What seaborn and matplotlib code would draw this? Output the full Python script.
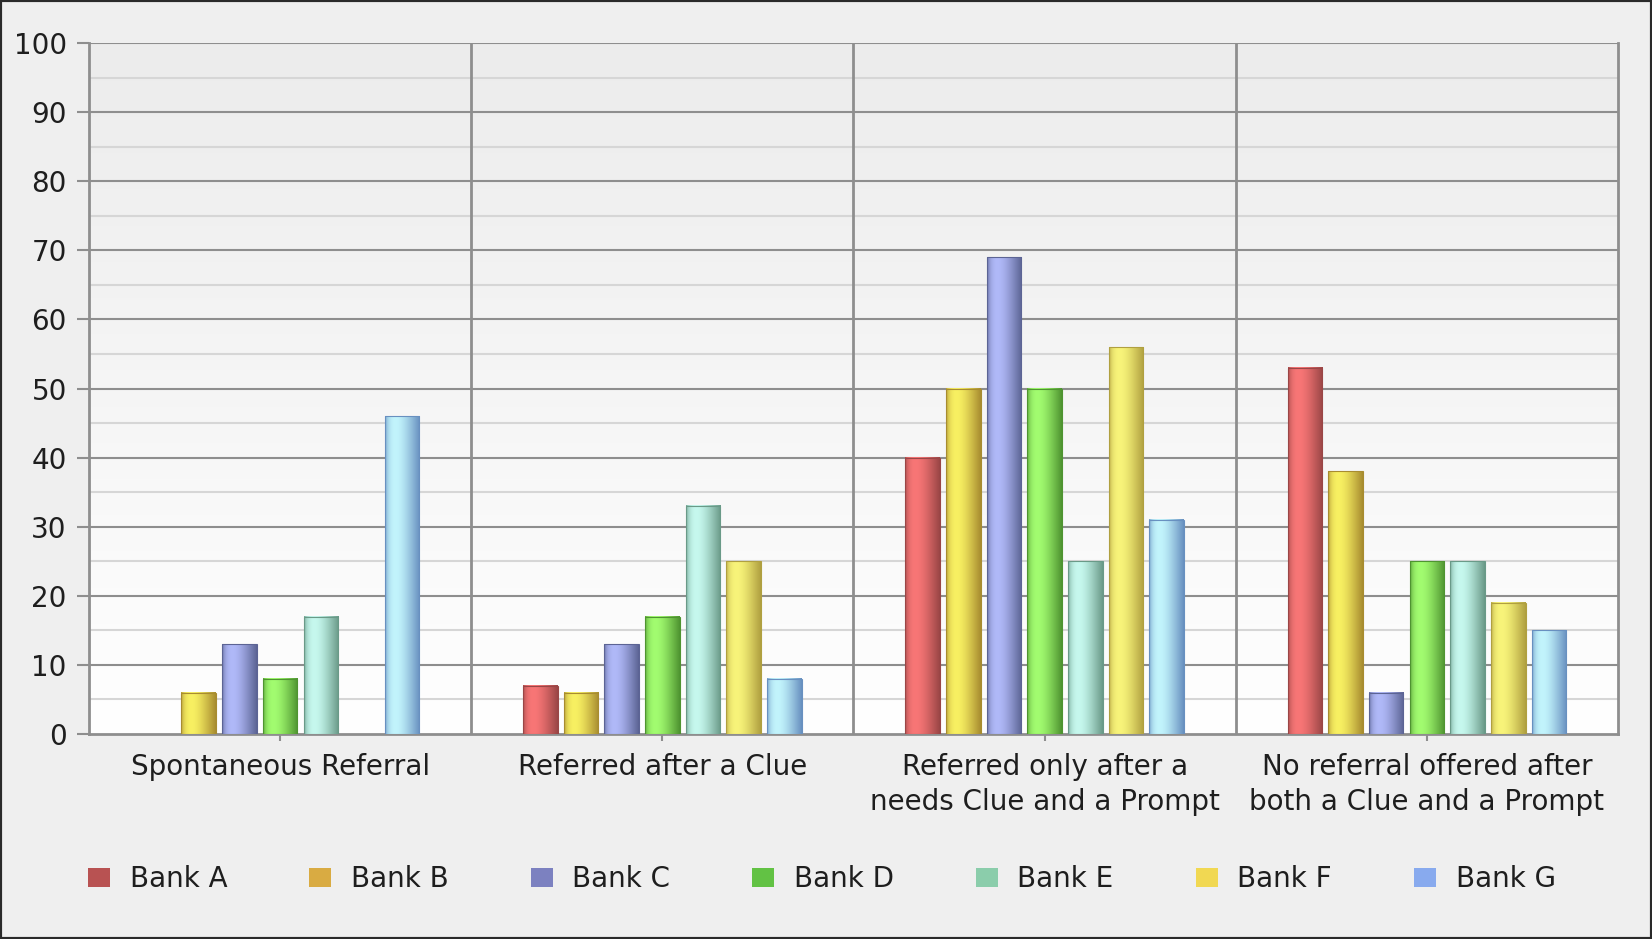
import numpy as np
import pandas as pd
import matplotlib
matplotlib.use("Agg")
import matplotlib.pyplot as plt
import matplotlib.colors as mcolors
from matplotlib.patches import Patch, Rectangle
import seaborn as sns

# ---------------- data ----------------
categories = [
    "Spontaneous Referral",
    "Referred after a Clue",
    "Referred only after a\nneeds Clue and a Prompt",
    "No referral offered after\nboth a Clue and a Prompt",
]
banks = ["Bank A", "Bank B", "Bank C", "Bank D", "Bank E", "Bank F", "Bank G"]
bank_a = [0, 7, 40, 53]
bank_b = [6, 6, 50, 38]
bank_c = [13, 13, 69, 6]
bank_d = [8, 17, 50, 25]
bank_e = [17, 33, 25, 25]
bank_f = [0, 25, 56, 19]
bank_g = [46, 8, 31, 15]
y_ticks = [0, 10, 20, 30, 40, 50, 60, 70, 80, 90, 100]

series = [bank_a, bank_b, bank_c, bank_d, bank_e, bank_f, bank_g]
rows = []
for b, vals in zip(banks, series):
    for c, v in zip(categories, vals):
        rows.append({"category": c, "bank": b, "value": v})
df = pd.DataFrame(rows)

# ---------------- styles ----------------
legend_colors = ["#b85252", "#d9ab42", "#7c81c0", "#62c244", "#8bcdab", "#f1d852", "#88aaee"]
bar_light = ["#f87676", "#f8f062", "#b0b9f8", "#a2fc70", "#c6f8ee", "#f8f47a", "#c2f4fc"]
bar_dark = ["#9a4646", "#a88c30", "#5c6494", "#4f9431", "#6a9a88", "#b0a040", "#6890c0"]

sns.set_theme(style="white")
plt.rcParams["font.family"] = ["DejaVu Sans"]

W, H = 1652, 939
fig = plt.figure(figsize=(W / 100, H / 100), dpi=100)
fig.patch.set_facecolor("#efefef")

L, R, T, B = 89, 1618, 43, 734
ax = fig.add_axes([L / W, 1 - B / H, (R - L) / W, (B - T) / H])

sns.barplot(data=df, x="category", y="value", hue="bank", order=categories,
            hue_order=banks, palette=legend_colors, width=0.745, gap=0.15,
            saturation=1, ax=ax, legend=False, zorder=3)

# background gradient of plot area
bg = np.linspace(0, 1, 256)[:, None]
bg_cmap = mcolors.LinearSegmentedColormap.from_list("bg", ["#ececec", "#ffffff"])
ax.imshow(bg, cmap=bg_cmap, extent=(0, 1, 0, 1), transform=ax.transAxes,
          aspect="auto", zorder=0, origin="upper")

# cylindrical shading for bars
xs = np.linspace(0, 1, 128)
prof = np.sin(np.pi * np.clip(xs, 1e-6, 1) ** 0.576)
for i, cont in enumerate(ax.containers):
    lo = np.array(mcolors.to_rgb(bar_dark[i]))
    hi = np.array(mcolors.to_rgb(bar_light[i]))
    grad = lo[None, None, :] + (hi - lo)[None, None, :] * prof[None, :, None]
    for p in cont.patches:
        h = p.get_height()
        if h <= 0:
            p.set_visible(False)
            continue
        x0, y0, w = p.get_x(), p.get_y(), p.get_width()
        ax.imshow(grad, extent=(x0, x0 + w, y0, y0 + h), aspect="auto",
                  interpolation="bilinear", zorder=2.9)
        p.set_facecolor("none")
        p.set_edgecolor(bar_dark[i])
        p.set_linewidth(0.8)
        p.set_zorder(3)

ax.set_xlim(-0.5, 3.5)
ax.set_ylim(0, 100)

# grid lines
for v in np.arange(5, 100, 10):
    ax.axhline(v, color="#d6d6d6", lw=1.5, zorder=1)
for v in y_ticks[1:]:
    ax.axhline(v, color="#8e8e8e", lw=1.5, zorder=1.1)
for v in [0.5, 1.5, 2.5]:
    ax.axvline(v, color="#8e8e8e", lw=2, zorder=1.1)

for s in ["left", "right", "bottom"]:
    ax.spines[s].set_color("#8e8e8e")
    ax.spines[s].set_linewidth(2)
ax.spines["top"].set_visible(False)

ax.set_yticks(y_ticks)
ax.set_yticklabels([str(t) for t in y_ticks])
ax.tick_params(axis="y", left=True, length=9, width=1.5, color="#8e8e8e",
               pad=7, labelsize=20, labelcolor="#1e1e1e")
ax.tick_params(axis="x", bottom=True, length=5, width=1.5, color="#8e8e8e",
               pad=9, labelsize=20, labelcolor="#1e1e1e")
for lab in ax.get_xticklabels():
    lab.set_linespacing(1.3)
ax.set_xlabel("")
ax.set_ylabel("")

# legend
handles = [Patch(facecolor=c, edgecolor="none") for c in legend_colors]
fig.legend(handles, banks, loc="center left", bbox_to_anchor=(88 / W, 1 - 879 / H),
           ncol=7, frameon=False, fontsize=20, handlelength=0.8, handleheight=0.7,
           handletextpad=0.7, columnspacing=2.95, borderpad=0, borderaxespad=0,
           labelcolor="#1e1e1e")

fig.add_artist(Rectangle((0, 0), 1, 1, transform=fig.transFigure, fill=False,
                         edgecolor="#2a2a2a", lw=3))

fig.savefig("out.png", dpi=100, facecolor=fig.get_facecolor())
